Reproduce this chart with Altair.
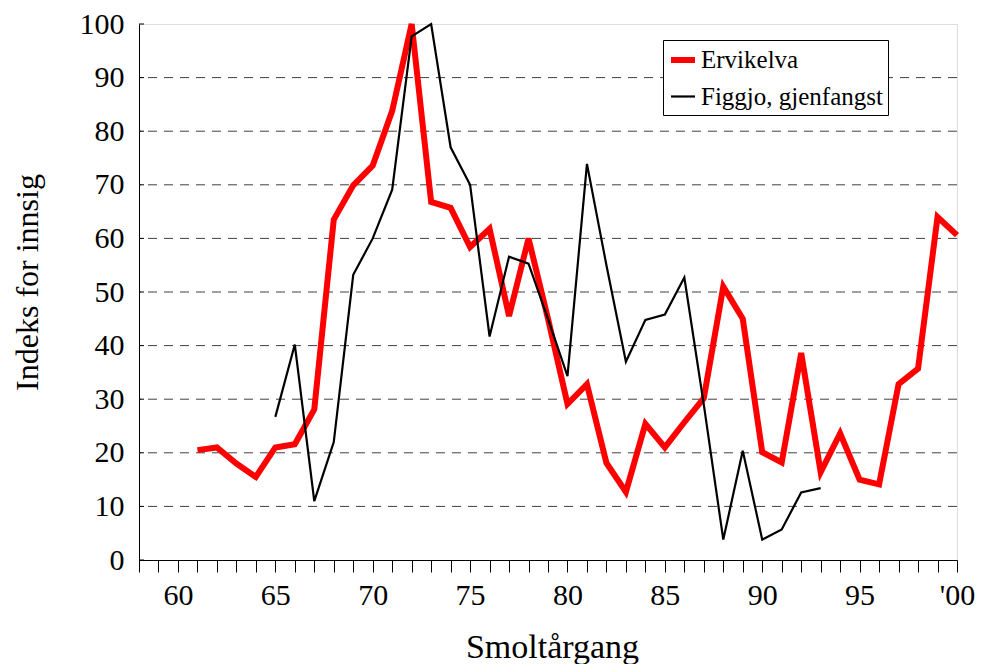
import altair as alt
import pandas as pd

# --- data ---
erv_years = list(range(61, 101))
erv_values = [20.5, 21, 18, 15.5, 21, 21.6, 28.1, 63.5, 69.9, 73.6,
              83.8, 100, 66.8, 65.7, 58.4, 61.8, 45.5, 60, 45, 29.1,
              32.8, 18.1, 12.7, 25.4, 21, 25.7, 30.2, 51, 45, 20.1,
              18.2, 38.6, 16.4, 23.6, 15, 14.1, 32.8, 35.7, 64, 60.6]

fig_years = list(range(65, 94))
fig_values = [26.7, 40.2, 11, 22, 53.2, 60, 69.1, 97.7, 100, 77,
              70, 41.7, 56.6, 55.3, 45, 34.3, 73.9, 55, 37, 44.8,
              45.8, 52.7, 29, 3.8, 20.4, 3.8, 5.7, 12.6, 13.4]

series_names = ["Ervikelva", "Figgjo, gjenfangst"]
series_colors = ["#ff0000", "#000000"]
series_widths = [6, 2.2]

x_ticks = list(range(58, 101))
y_ticks = list(range(0, 101, 10))

rows = []
for yr, v in zip(erv_years, erv_values):
    rows.append({"year": yr, "value": v, "series": series_names[0], "order": 0})
for yr, v in zip(fig_years, fig_values):
    rows.append({"year": yr, "value": v, "series": series_names[1], "order": 1})
df = pd.DataFrame(rows)

FONT = "Liberation Serif"
W, H = 818, 536

x_scale = alt.Scale(domain=[58, 100], nice=False, zero=False)
y_scale = alt.Scale(domain=[0, 100], nice=False)

y_axis = alt.Axis(values=y_ticks, title="Indeks for innsig", grid=False, ticks=False,
                  domainColor="black", labelFontSize=30, labelPadding=15,
                  labelFont=FONT, labelColor="black",
                  titleFont=FONT, titleFontSize=32, titleFontWeight="normal",
                  titleColor="black", titleX=-102, titleY=258,
                  titleAngle=270, titleBaseline="alphabetic", titleAlign="center")

x_axis = alt.Axis(values=x_ticks, title="Smoltårgang",
                  labelExpr="datum.value == 100 ? \"'00\" : (datum.value % 5 == 0 ? datum.value : '')",
                  grid=False, tickSize=12, tickColor="black", domainColor="black",
                  labelFontSize=30, labelPadding=8, labelFont=FONT, labelColor="black",
                  labelFlush=False, labelOverlap=False,
                  titleFont=FONT, titleFontSize=34, titleFontWeight="normal",
                  titleColor="black", titleX=W / 2 + 4, titleY=97, titleBaseline="alphabetic")

# dashed gridlines
grid = alt.Chart(pd.DataFrame({"g": y_ticks[1:-1]})).mark_rule(
    color="#404040", strokeWidth=1, strokeDash=[9, 7]
).encode(y=alt.Y("g:Q", scale=y_scale, axis=y_axis))

# inward y ticks
yt = alt.Chart(pd.DataFrame({"g": y_ticks})).mark_rule(
    color="black", strokeWidth=1
).encode(y=alt.Y("g:Q", scale=y_scale, axis=y_axis), x=alt.value(0), x2=alt.value(5))

legend_opts = dict(title=None, orient="none", legendX=524, legendY=16,
                   strokeColor="black", fillColor="white", padding=5,
                   labelFont=FONT, labelFontSize=25, labelColor="black",
                   labelLimit=400, labelOffset=3,
                   symbolType="stroke", symbolSize=576, rowPadding=10)

lines = alt.Chart(df).mark_line(strokeJoin="miter").encode(
    x=alt.X("year:Q", scale=x_scale, axis=x_axis),
    y=alt.Y("value:Q", scale=y_scale, axis=y_axis),
    color=alt.Color("series:N", scale=alt.Scale(domain=series_names, range=series_colors),
                    legend=alt.Legend(**legend_opts)),
    strokeWidth=alt.StrokeWidth("series:N", scale=alt.Scale(domain=series_names, range=series_widths),
                                legend=alt.Legend(**legend_opts)),
    order=alt.Order("order:Q", sort="descending"),
    detail="series:N",
)

chart = alt.layer(grid, yt, lines).properties(
    width=W, height=H,
    autosize=alt.AutoSizeParams(type="none"),
    padding={"left": 131, "top": 16, "right": 18, "bottom": 104},
).configure_view(stroke="black", strokeWidth=1.5).configure(background="white")

chart.save("out.html", embed_options={"renderer": "svg", "actions": False})
